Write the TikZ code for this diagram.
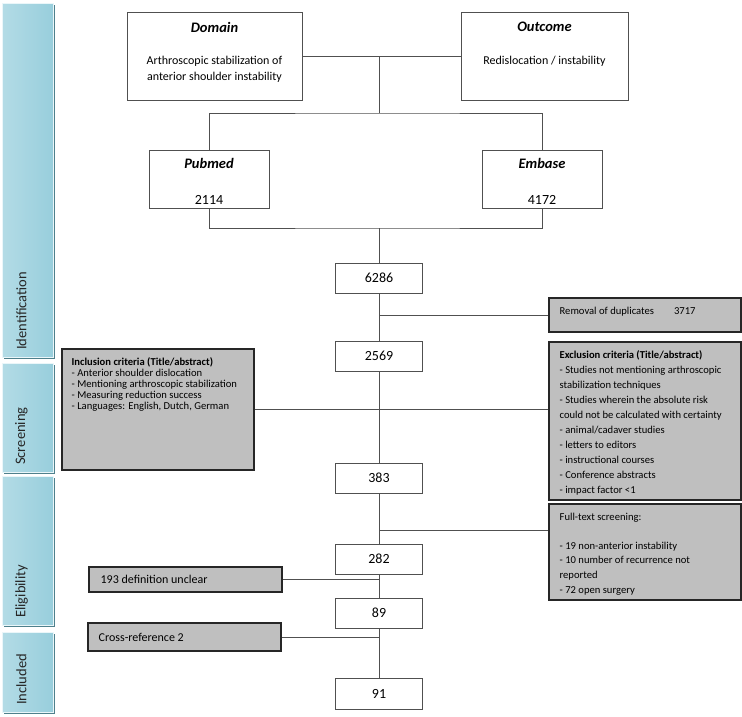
\documentclass[tikz,border=0pt]{standalone}
\usepackage{fontspec}
\setmainfont{Carlito}
\usetikzlibrary{positioning,calc}
\definecolor{pfgrey}{RGB}{191,191,191}
\definecolor{pfdark}{RGB}{80,80,80}
\definecolor{pfphaseA}{RGB}{220,240,245}
\definecolor{pfphaseB}{RGB}{152,206,220}
\definecolor{pfshadow}{RGB}{78,128,140}
\tikzset{
  pf/.style={font=\fontsize{12}{16.7}\selectfont, text=black},
  pfbox/.style={pf, draw=pfdark, fill=white, line width=0.9pt, inner sep=0pt},
  pfgreybox/.style={draw=black!85, fill=pfgrey, line width=1.1pt, inner sep=0pt},
  pfttl/.style={font=\fontsize{14.5}{17}\selectfont\bfseries\itshape, inner sep=1pt},
  pfnum/.style={font=\fontsize{14}{17}\selectfont},
  pfsmall/.style={font=\fontsize{10.6}{15}\selectfont, align=left, inner sep=0pt},
  pfconn/.style={draw=pfdark, line width=0.9pt},
  pfphase/.style={left color=pfphaseB!60!pfphaseA, middle color=pfphaseA, right color=pfphaseB,
    draw=white!40!pfphaseA, line width=0.6pt},
  pfphaselabel/.style={font=\fontsize{14.5}{17}\selectfont, rotate=90, anchor=west,
    inner sep=0pt, text=black!85},
}

\begin{document}
\begin{tikzpicture}[x=1pt, y=-1pt]
  \path[use as bounding box, fill=white] (0,0) rectangle (742,716);

  % phase bars on the left
  \foreach \t/\b/\lbl [count=\i] in {3/357/Identification, 363/472/Screening,
      476/625/Eligibility, 632/712/Included} {
    \fill[pfshadow] (3.6,\t+1.6) rectangle (54.6,\b+1.6);
    \path[pfphase] (2,\t) rectangle (53,\b);
    \node[pfphaselabel] (phase\i) at (21.5,\b-7) {\lbl};
  }

  % search terms
  \node[pfbox, minimum width=175pt, minimum height=88pt] (domain) at (214.5,56) {};
  \node[pfbox, minimum width=167pt, minimum height=88pt] (outcome) at (544.5,56) {};
  \node[pfttl, below=9.5pt of domain.north] (domainttl) {Domain};
  \node[pf, align=center, inner sep=1pt, below=43pt of domain.north] (domaintxt)
    {Arthroscopic stabilization of\\anterior shoulder instability};
  \node[pfttl, below=9.5pt of outcome.north] (outcomettl) {Outcome};
  \node[pf, inner sep=1pt, below=43pt of outcome.north] (outcometxt)
    {Redislocation / instability};

  % databases
  \node[pfbox, minimum width=120pt, minimum height=58pt] (pubmed) at (209,179) {};
  \node[pfbox, minimum width=120pt, minimum height=58pt] (embase) at (542,179) {};
  \node[pfttl, below=8pt of pubmed.north] (pubmedttl) {Pubmed};
  \node[pfnum, inner sep=1pt, above=3pt of pubmed.south] (pubmednum) {2114};
  \node[pfttl, below=8pt of embase.north] (embasettl) {Embase};
  \node[pfnum, inner sep=1pt, above=3pt of embase.south] (embasenum) {4172};

  % counts
  \node[pfbox, pfnum, minimum width=87pt, minimum height=30pt] (n6286) at (379,278) {6286};
  \node[pfbox, pfnum, minimum width=87pt, minimum height=30pt] (n2569) at (379,356) {2569};
  \node[pfbox, pfnum, minimum width=87pt, minimum height=30pt] (n383) at (379,478) {383};
  \node[pfbox, pfnum, minimum width=87pt, minimum height=30pt] (n282) at (379,559) {282};
  \node[pfbox, pfnum, minimum width=87pt, minimum height=30pt] (n89) at (379,613) {89};
  \node[pfbox, pfnum, minimum width=87pt, minimum height=31pt] (n91) at (379,693.5) {91};

  % right hand side
  \node[pfgreybox, minimum width=192pt, minimum height=34pt] (removal) at (645,315) {};
  \node[pfsmall, right=11pt of removal.west, yshift=3pt] (removaltxt)
    {Removal of duplicates\hspace{20pt}3717};
  \node[pfgreybox, minimum width=192pt, minimum height=158pt] (exclusion) at (645,421) {};
  \node[pfsmall, below right=9pt and 11pt of exclusion.north west] (exclusiontxt)
    {\textbf{Exclusion criteria (Title/abstract)}\\
     - Studies not mentioning arthroscopic\\
     stabilization techniques\\
     - Studies wherein the absolute risk\\
     could not be calculated with certainty\\
     - animal/cadaver studies\\
     - letters to editors\\
     - instructional courses\\
     - Conference abstracts\\
     - impact factor <1};
  \node[pfgreybox, minimum width=192pt, minimum height=96pt] (fulltext) at (645,552) {};
  \node[pfsmall, font=\fontsize{10.6}{14.6}\selectfont,
    below right=9pt and 11pt of fulltext.north west] (fulltexttxt)
    {Full-text screening:\\[14.6pt]
     - 19 non-anterior instability\\
     - 10 number of recurrence not\\
     reported\\
     - 72 open surgery};

  % left hand side
  \node[pfgreybox, minimum width=192pt, minimum height=121pt] (inclusion) at (158,409.5) {};
  \node[pfsmall, font=\fontsize{10.6}{10.9}\selectfont,
    below right=9pt and 10pt of inclusion.north west] (inclusiontxt)
    {\textbf{Inclusion criteria (Title/abstract)}\\
     - Anterior shoulder dislocation\\
     - Mentioning arthroscopic stabilization\\
     - Measuring reduction success\\
     - Languages: English, Dutch, German};
  \node[pfgreybox, minimum width=193pt, minimum height=25pt] (def193) at (185.5,579.5) {};
  \node[pf, inner sep=0pt, right=12pt of def193.west] (def193txt) {193 definition unclear};
  \node[pfgreybox, minimum width=193pt, minimum height=28pt] (crossref) at (184.5,637) {};
  \node[pf, inner sep=0pt, right=11pt of crossref.west] (crossreftxt) {Cross-reference 2};

  % connectors
  \coordinate (split) at (379,113);
  \coordinate (merge) at (379,228);
  \coordinate (ftjoin) at ([yshift=22pt]fulltext.west);
  \draw[pfconn] (domain) -- (outcome);
  \draw[pfconn] (split |- domain) -- (split);
  \draw[pfconn] (pubmed.north) |- (split) -| (embase.north);
  \draw[pfconn] (pubmed.south) |- (merge) -| (embase.south);
  \draw[pfconn] (merge) -- (n6286);
  \draw[pfconn] (n6286) -- (n2569);
  \draw[pfconn] (n2569) -- (n383);
  \draw[pfconn] (n383) -- (n282);
  \draw[pfconn] (n282) -- (n89);
  \draw[pfconn] (n89) -- (n91);
  \draw[pfconn] (removal) -- (removal -| n6286);
  \draw[pfconn] (inclusion.east) -- (inclusion.east -| exclusion.west);
  \draw[pfconn] (ftjoin) -- (ftjoin -| n383);
  \draw[pfconn] (def193) -- (def193 -| n282);
  \draw[pfconn] (crossref) -- (crossref -| n89);
\end{tikzpicture}
\end{document}
